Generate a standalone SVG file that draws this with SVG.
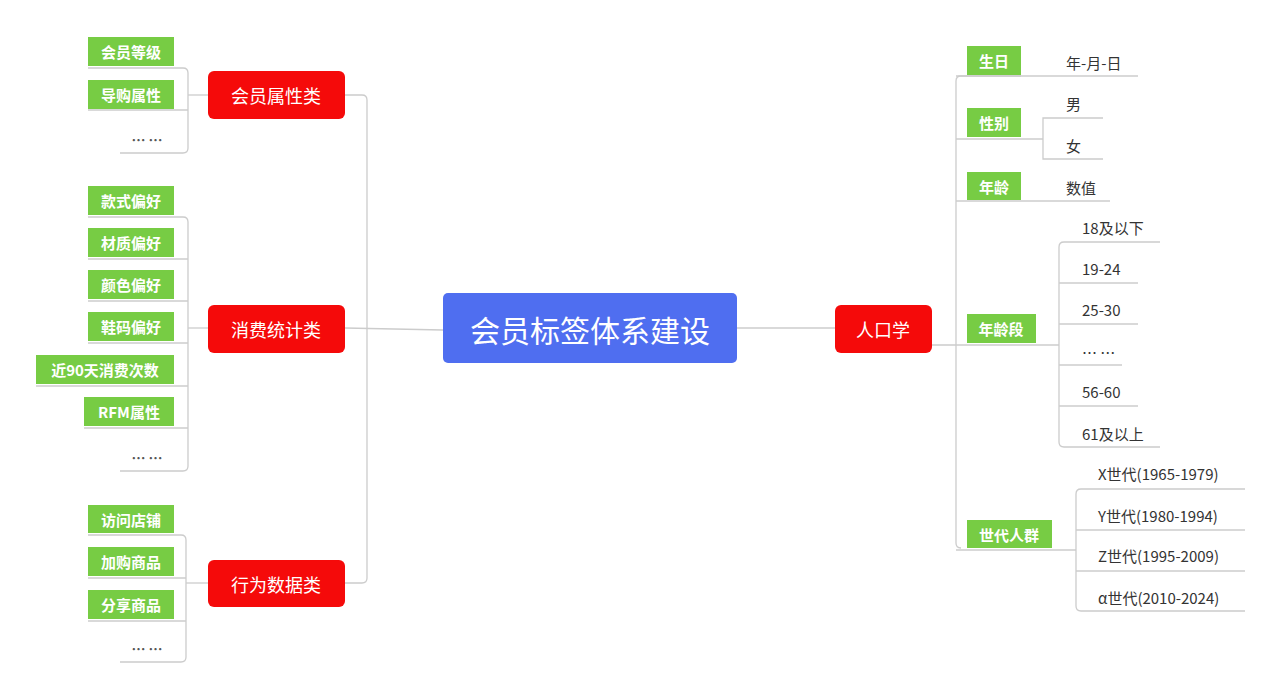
<svg xmlns="http://www.w3.org/2000/svg" width="1280" height="700" viewBox="0 0 1280 700">
<style>
text{font-family:"Noto Sans CJK SC","Noto Sans",sans-serif}
.g{fill:#77CC44}
.gt{fill:#fff;font-size:15px;font-weight:bold;text-anchor:middle;dominant-baseline:central}
.r{fill:#F50A0A}
.rt{fill:#fff;font-size:18px;text-anchor:middle;dominant-baseline:central}
.lt{fill:#333;font-size:15px;dominant-baseline:central}
.dt{fill:#555;font-size:14px;font-weight:bold;text-anchor:middle;dominant-baseline:central}
.c path,.c line{stroke:#ccc;stroke-width:1.3;fill:none}
</style>
<rect width="1280" height="700" fill="#fff"/>
<g class="c">
<path d="M345 95 H362 Q367 95 367 100 V578 Q367 583 362 583 H345"/>
<line x1="345" y1="328" x2="443" y2="330"/>
<line x1="737" y1="328" x2="835" y2="328"/>
<line x1="188" y1="95" x2="208" y2="95"/>
<line x1="188" y1="328" x2="208" y2="328"/>
<line x1="186" y1="583" x2="208" y2="583"/>
<path d="M88 68 H183 Q188 68 188 73 V148 Q188 153 183 153 H120"/><line x1="88" y1="110" x2="188" y2="110"/>
<path d="M88 217 H183 Q188 217 188 222 V466 Q188 471 183 471 H120"/>
<line x1="88" y1="259" x2="188" y2="259"/><line x1="88" y1="301" x2="188" y2="301"/><line x1="88" y1="343" x2="188" y2="343"/><line x1="36" y1="386" x2="188" y2="386"/><line x1="84" y1="428" x2="188" y2="428"/>
<path d="M88 535 H181 Q186 535 186 540 V657 Q186 662 181 662 H120"/>
<line x1="88" y1="578" x2="186" y2="578"/><line x1="88" y1="621" x2="186" y2="621"/>
<path d="M932 345 H956 M1021 76 H961 Q956 76 956 81 V543 Q956 548 961 548"/>
<line x1="956" y1="76" x2="1138" y2="76"/>
<line x1="956" y1="139" x2="1043" y2="139"/>
<path d="M1103 118 H1043 V159 H1103"/>
<line x1="956" y1="201" x2="1110" y2="201"/>
<line x1="956" y1="345" x2="1059" y2="345"/>
<path d="M1160 242 H1064 Q1059 242 1059 247 V442 Q1059 447 1064 447 H1160"/>
<line x1="1059" y1="283" x2="1138" y2="283"/><line x1="1059" y1="324" x2="1138" y2="324"/><line x1="1059" y1="365" x2="1122" y2="365"/><line x1="1059" y1="406" x2="1138" y2="406"/>
<line x1="956" y1="550" x2="1076" y2="550"/>
<path d="M1245 489 H1081 Q1076 489 1076 494 V606 Q1076 611 1081 611 H1245"/>
<line x1="1076" y1="530" x2="1245" y2="530"/><line x1="1076" y1="571" x2="1245" y2="571"/>
</g>
<g id="center"><rect x="443" y="293" width="294" height="70" rx="5" fill="#4F6EF0"/><text x="590" y="329" fill="#fff" font-size="30" text-anchor="middle" dominant-baseline="central">会员标签体系建设</text></g>
<g id="n1"><rect class="r" x="208" y="71" width="137" height="48" rx="6"/><text class="rt" x="276" y="95">会员属性类</text></g>
<g id="n2"><rect class="r" x="208" y="305" width="137" height="48" rx="6"/><text class="rt" x="276" y="329">消费统计类</text></g>
<g id="n3"><rect class="r" x="208" y="560" width="137" height="47" rx="6"/><text class="rt" x="276" y="584">行为数据类</text></g>
<g id="n4"><rect class="r" x="835" y="305" width="97" height="48" rx="6"/><text class="rt" x="883" y="329">人口学</text></g>
<g id="l1"><rect class="g" x="88" y="37" width="86" height="29"/><text class="gt" x="131" y="51">会员等级</text></g>
<g id="l2"><rect class="g" x="88" y="80" width="86" height="29"/><text class="gt" x="131" y="94">导购属性</text></g>
<g id="l3"><text class="dt" x="147" y="139">… …</text></g>
<g id="l4"><rect class="g" x="88" y="186" width="86" height="29"/><text class="gt" x="131" y="200">款式偏好</text></g>
<g id="l5"><rect class="g" x="88" y="228" width="86" height="29"/><text class="gt" x="131" y="242">材质偏好</text></g>
<g id="l6"><rect class="g" x="88" y="270" width="86" height="29"/><text class="gt" x="131" y="284">颜色偏好</text></g>
<g id="l7"><rect class="g" x="88" y="312" width="86" height="29"/><text class="gt" x="131" y="326">鞋码偏好</text></g>
<g id="l8"><rect class="g" x="36" y="355" width="138" height="29"/><text class="gt" x="105" y="369">近90天消费次数</text></g>
<g id="l9"><rect class="g" x="84" y="397" width="90" height="29"/><text class="gt" x="129" y="411">RFM属性</text></g>
<g id="l10"><text class="dt" x="147" y="457">… …</text></g>
<g id="l11"><rect class="g" x="88" y="505" width="86" height="28"/><text class="gt" x="131" y="519">访问店铺</text></g>
<g id="l12"><rect class="g" x="88" y="547" width="86" height="29"/><text class="gt" x="131" y="561">加购商品</text></g>
<g id="l13"><rect class="g" x="88" y="590" width="86" height="29"/><text class="gt" x="131" y="604">分享商品</text></g>
<g id="l14"><text class="dt" x="147" y="648">… …</text></g>
<g id="r1"><rect class="g" x="967" y="46" width="54" height="29"/><text class="gt" x="994" y="60">生日</text></g>
<g id="r2"><rect class="g" x="967" y="108" width="54" height="29"/><text class="gt" x="994" y="122">性别</text></g>
<g id="r3"><rect class="g" x="967" y="172" width="54" height="28"/><text class="gt" x="994" y="186">年龄</text></g>
<g id="r4"><rect class="g" x="967" y="314" width="69" height="29"/><text class="gt" x="1001" y="328">年龄段</text></g>
<g id="r5"><rect class="g" x="967" y="520" width="85" height="28"/><text class="gt" x="1009" y="534">世代人群</text></g>
<g id="t1"><text class="lt" x="1066" y="62">年-月-日</text></g>
<g id="t2"><text class="lt" x="1066" y="103">男</text></g>
<g id="t3"><text class="lt" x="1066" y="145">女</text></g>
<g id="t4"><text class="lt" x="1066" y="187">数值</text></g>
<g id="t5"><text class="lt" x="1082" y="227">18及以下</text></g>
<g id="t6"><text class="lt" x="1082" y="268">19-24</text></g>
<g id="t7"><text class="lt" x="1082" y="309">25-30</text></g>
<g id="t8"><text class="lt" x="1082" y="352">… …</text></g>
<g id="t9"><text class="lt" x="1082" y="391">56-60</text></g>
<g id="t10"><text class="lt" x="1082" y="433">61及以上</text></g>
<g id="t11"><text class="lt" x="1098" y="473">X世代(1965-1979)</text></g>
<g id="t12"><text class="lt" x="1098" y="515">Y世代(1980-1994)</text></g>
<g id="t13"><text class="lt" x="1098" y="555">Z世代(1995-2009)</text></g>
<g id="t14"><text class="lt" x="1098" y="597">α世代(2010-2024)</text></g>
</svg>
